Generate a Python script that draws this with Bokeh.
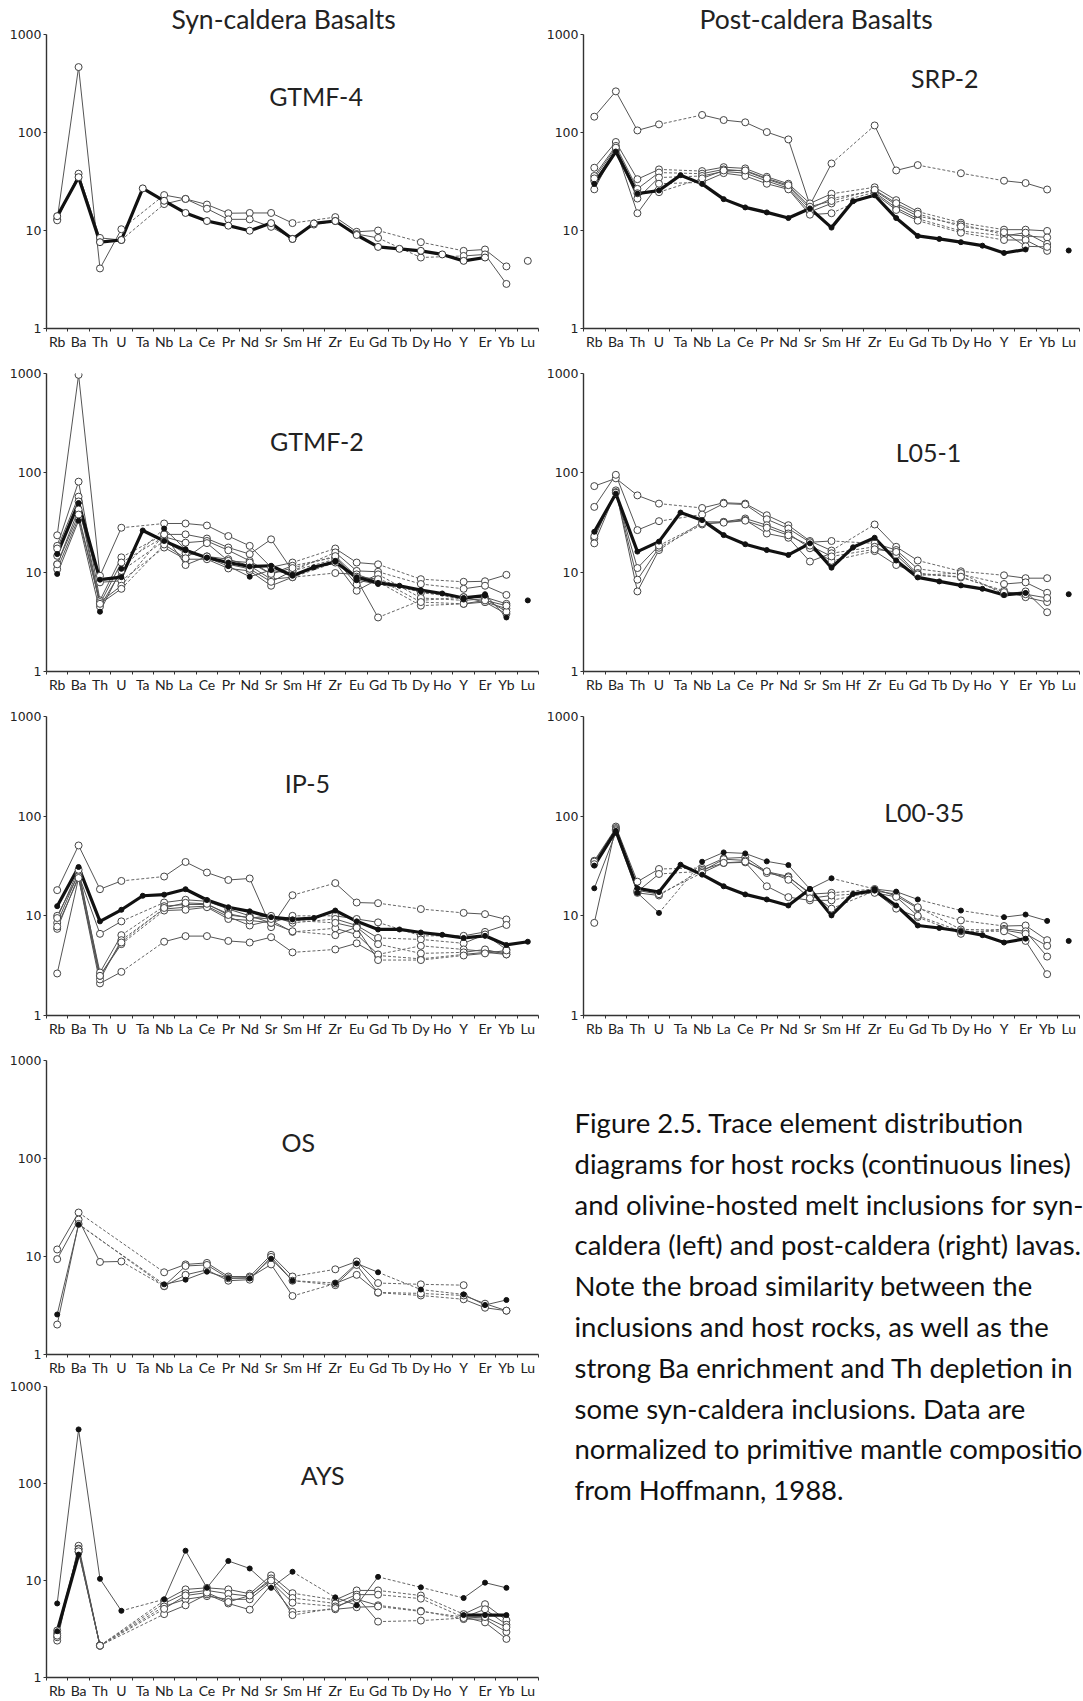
from bokeh.plotting import figure
from bokeh.models import Range1d, FixedTicker, BasicTickFormatter
from bokeh.layouts import row, column
from bokeh.core.properties import value
from bokeh.embed import file_html
from bokeh.resources import INLINE

N = None

# Element order along the x axis (primitive-mantle normalised spider diagram)
CATS = ["Rb", "Ba", "Th", "U", "Ta", "Nb", "La", "Ce", "Pr", "Nd", "Sr", "Sm",
        "Hf", "Zr", "Eu", "Gd", "Tb", "Dy", "Ho", "Y", "Er", "Yb", "Lu"]
Y_TICKS = [1, 10, 100, 1000]

# ---------------- Syn-caldera basalts ----------------
GTMF4_HOST = [14.0, 35, 7.6, 8.0, 26.9, 20.1, 15.1, 12.5, 11.2, 9.95, 11.9, 8.2, 11.8, 12.5, 9.0, 6.8, 6.5, 6.2, 5.7, 4.9, 5.3, N, N]
GTMF4_DOT = []
GTMF4_MI = [
    [13.0, 465, 4.1, 10.3, N, 23, 21, 18.4, 15.0, 15.1, 15.1, 11.9, N, 13.7, 9.7, 10.0, N, 7.6, N, 6.2, 6.4, 4.3, N],
    [12.7, 38, 8.4, 8.0, N, 18.6, 21, 16.7, 13.0, 13.0, 10.9, 8.2, 11.5, 12.5, 9.2, 8.4, N, 5.3, N, 5.5, 5.7, 2.85, N],
    [N, N, N, N, N, N, N, N, N, N, N, N, N, N, N, N, N, N, N, N, N, N, 4.9],
]

GTMF2_HOST = [15.2, 49.7, 8.4, 8.9, 26.3, 20.6, 16.6, 14.0, 12.5, 11.4, 11.6, 9.2, 11.2, 12.7, 8.9, 7.8, 7.3, 6.6, 6.1, 5.5, 5.8, N, 5.2]
GTMF2_DOT = [
    [9.6, 33, 4.0, 10.8, N, 27.5, 17, 14, 11.5, 9.0, 10.5, 9.5, N, 13, 8.3, 7.6, N, 6.4, N, 5.3, 6.0, 3.5, N],
]
GTMF2_MI = [
    [23.5, 969, 9.2, 28, N, 30.9, 30.9, 29.5, 23.1, 18.4, 11.2, 12.5, N, 17.3, 12.5, 12.0, N, 8.5, N, 8.0, 8.1, 9.4, N],
    [18.4, 81.5, 5.2, 14.1, N, 24, 24, 21.8, 17.7, 15.2, 21.4, 10.3, N, 15.8, 10.3, 10.1, N, 7.6, N, 6.8, 7.3, 5.9, N],
    [17.3, 57.6, 4.8, 12.5, N, 22.7, 19.8, 20.6, 16.6, 13.0, 9.6, 11.6, N, 14.1, 8.5, 3.5, N, 5.2, N, 5.6, 5.6, 4.8, N],
    [14.6, 51.5, 4.5, 10.3, N, 20.6, 15.5, 14.4, 13.5, 11.6, 8.5, 8.9, N, 12.5, 6.5, 8.5, N, 6.2, N, 5.6, 5.0, 4.3, N],
    [12.0, 42.7, 7.9, 8.2, N, 17.7, 13.5, 13.5, 10.9, 10.3, 7.3, 8.9, N, 9.8, 9.5, 8.0, N, 4.6, N, 4.8, 5.0, 3.8, N],
    [10.7, 35.2, 5.0, 7.3, N, 24, 11.8, 14.4, 12.0, 10.8, 8.0, 10.3, N, 13.5, 7.5, 9.5, N, 5.5, N, 5.2, 5.4, 4.0, N],
    [12.0, 38, 4.8, 6.8, N, 19, 13.8, 19.6, 13.0, 12.5, 9.6, 11.0, N, 14.5, 9.0, 8.5, N, 5.0, N, 4.8, 5.2, 4.6, N],
]

IP5_HOST = [12.5, 30.9, 8.8, 11.5, 15.9, 16.3, 18.5, 14.4, 12.2, 11.1, 9.7, 9.2, 9.5, 11.3, 8.8, 7.3, 7.3, 6.8, 6.45, 6.0, 6.3, 5.1, 5.5]
IP5_DOT = []
IP5_MI = [
    [18.1, 50.8, 18.5, 22.4, N, 24.8, 34.7, 27.2, 22.9, 23.7, 7.7, 16.1, N, 21.3, 13.6, 13.4, N, 11.7, N, 10.7, 10.4, 9.2, N],
    [2.64, 24, 2.1, 2.74, N, 5.5, 6.26, 6.26, 5.6, 5.4, 6.1, 4.3, N, 4.6, 5.3, 4.0, N, 3.7, N, 4.1, 4.3, 4.1, N],
    [10, 26, 6.6, 8.8, N, 13.6, 14.5, 14, 11.7, 10, 8.5, 10, N, 10, 9.3, 8.6, N, 6.3, N, 6.3, 6.9, 8.1, N],
    [8.5, 27, 2.7, 6.4, N, 12.5, 13, 13, 10.5, 9.5, 10, 8.5, N, 9.3, 8.0, 6.0, N, 5.8, N, 5.3, 6.5, 4.6, N],
    [7.4, 25, 2.3, 5.7, N, 11.7, 12.2, 12.5, 9.8, 8.0, 9.0, 6.9, N, 7.5, 6.5, 4.1, N, 5.0, N, 4.6, 4.4, 4.3, N],
    [7.8, 24, 2.5, 5.2, N, 11.3, 11.5, 12.2, 9.3, 9.0, 8.5, 7.0, N, 6.4, 7.7, 5.2, N, 4.2, N, 4.3, 4.6, 4.1, N],
    [9.5, 29, 2.5, 5.4, N, 12, 13.5, 13.2, 10.2, 9.6, 9.3, 9.0, N, 8.5, 7.6, 3.6, N, 3.6, N, 4.0, 4.2, 4.5, N],
]

OS_HOST = [N] * 23
OS_DOT = [
    [2.56, 21.2, N, N, N, 5.2, 5.8, 7.0, 6.0, 6.0, 9.5, 5.66, N, 5.36, 8.5, 6.9, N, 4.6, N, 4.1, 3.2, 3.6, N],
]
OS_MI = [
    [11.8, 28.1, N, N, N, 6.9, 8.3, 8.6, 6.25, 6.25, 10.4, 6.25, N, 7.4, 8.9, 5.36, N, 5.2, N, 5.1, N, N, N],
    [9.4, 23.8, 8.8, 8.9, N, 4.97, 6.5, 7.3, 5.66, 5.8, 9.9, 5.66, N, 5.1, 8.2, 4.27, N, 4.0, N, 3.66, 3.0, 2.8, N],
    [2.02, 21.5, N, N, N, 5.0, 8.0, 8.2, 6.0, 6.1, 8.3, 3.95, N, 5.3, 6.5, 4.3, N, 4.2, N, 4.0, 3.3, 2.8, N],
]

AYS_HOST = [3.0, 18.5, N, N, N, N, N, N, N, N, N, N, N, N, N, N, N, N, N, 4.4, 4.4, 4.4, N]
AYS_DOT = [
    [5.8, 361, 10.4, 4.87, N, 6.4, 20.3, 8.4, 15.9, 13.3, 8.4, 12.3, N, 6.7, 5.55, 10.9, N, 8.5, N, 6.6, 9.5, 8.4, N],
]
AYS_MI = [
    [2.4, 22.8, 2.13, N, N, 6.2, 8.1, 8.4, 8.1, 7.3, 11.3, 7.4, N, 6.3, 7.9, 7.9, N, 7.0, N, 4.5, 5.7, 3.9, N],
    [2.6, 21.3, 2.13, N, N, 5.8, 7.4, 7.9, 7.3, 6.9, 10.5, 6.6, N, 5.8, 7.15, 7.15, N, 6.5, N, 4.17, 5.05, 3.5, N],
    [2.85, 19.7, 2.13, N, N, 5.4, 6.4, 6.9, 6.4, 6.4, 9.7, 5.9, N, 5.4, 6.4, 5.55, N, 4.87, N, 4.0, 4.0, 2.95, N],
    [3.05, 21, 2.13, N, N, 4.5, 5.55, 7.2, 5.8, 5.0, 9.0, 4.75, N, 5.05, 5.3, 5.4, N, 4.8, N, 4.2, 3.7, 2.5, N],
    [2.7, 20, 2.13, N, N, 5.1, 7.0, 7.5, 6.0, 7.0, 10.0, 4.4, N, 5.2, 6.8, 3.77, N, 3.86, N, 4.1, 4.2, 3.3, N],
]

# ---------------- Post-caldera basalts ----------------
SRP2_HOST = [29.9, 64, 23.8, 25.6, 36.7, 29.9, 20.9, 17.2, 15.3, 13.4, 16.8, 10.7, 19.9, 22.9, 13.4, 8.8, 8.2, 7.6, 7.0, 5.9, 6.4, N, 6.25]
SRP2_DOT = []
SRP2_MI = [
    [145, 263, 105, 121, N, 151, 134, 127, 101, 85, 18.2, 48.3, N, 118, 41, 46.5, N, 38.4, N, 32.2, 30.5, 26.2, N],
    [43.7, 80, 33.4, 42, N, 40.4, 44.3, 43, 35.3, 30, 18.9, 23.7, N, 27.6, 20.4, 15.6, N, 12.0, N, 10.2, 10.2, 9.9, N],
    [36, 73, 26.6, 39, N, 38, 42, 40.4, 33.4, 28.2, 16.6, 21.2, N, 25.6, 18.2, 14.0, N, 11.5, N, 9.1, 8.8, 8.5, N],
    [32, 66, 21.2, 34.7, N, 36, 40, 38.5, 32, 27, 15.5, 18.9, N, 24.5, 17, 13.2, N, 9.9, N, 8.8, 9.5, 7.3, N],
    [26.3, 68, 15, 30, N, 31, 38.5, 36, 30, 26.3, 14.5, 15, N, 23.7, 16.2, 12.6, N, 9.5, N, 8.0, 8.0, 6.2, N],
    [34, 70, 24, 24.6, N, 34, 41, 41, 34, 29, 17.5, 20, N, 26, 19, 14.8, N, 11.0, N, 9.6, 6.9, 6.8, N],
]

L051_HOST = [25.5, 61.7, 16.1, 20.3, 39.8, 33.4, 23.6, 19.1, 16.7, 14.9, 19.5, 11.1, 17.8, 22.2, 13.1, 8.85, 8.07, 7.36, 6.8, 5.9, 6.17, N, 6.0]
L051_DOT = []
L051_MI = [
    [73.5, 88, 59.3, 49, N, 44.3, 50, 49, 37.4, 29.7, 20.6, 16.5, N, 30.2, 18, 13.1, N, 10.2, N, 9.3, 8.7, 8.7, N],
    [45.4, 95.5, 26.5, 32.6, N, 38, 49, 48, 34.1, 27.5, 20, 20.6, N, 19.5, 16.7, 10.8, N, 9.5, N, 7.6, 7.9, 6.2, N],
    [21.9, 66.6, 6.4, 16.7, N, 32.1, 32.1, 34.7, 29.7, 24.5, 17.4, 13, N, 16.3, 11.8, 9.8, N, 8.85, N, 6.5, 5.6, 5.0, N],
    [19.5, 64, 8.4, 17.6, N, 30.2, 32, 33.5, 24.5, 22.2, 12.8, 15.5, N, 18, 14.9, 9.3, N, 9.8, N, 6.0, 6.4, 3.95, N],
    [23, 63, 11, 18.5, N, 31, 31.5, 33, 28, 23.5, 18.5, 14.4, N, 17, 16, 9.5, N, 9.0, N, 6.3, 6.0, 5.5, N],
]

L0035_HOST = [31.9, 71.2, 18.9, 17.3, 32.6, 25.9, 19.8, 16.4, 14.6, 12.7, 18.6, 10.1, 16.6, 17.9, 12.7, 8.0, 7.55, 7.0, 6.4, 5.4, 5.9, N, 5.6]
L0035_DOT = [
    [18.9, 68, 17, 10.7, N, 34.9, 43.3, 42.3, 35.2, 32.3, 18.6, 23.8, N, 18.6, 17.5, 14.6, N, 11.3, N, 9.7, 10.3, 8.9, N],
]
L0035_MI = [
    [8.5, 78.6, 22, 29.5, N, 30.2, 37.7, 38.6, 27.7, 24.9, 16.5, 17, N, 18.6, 15.8, 11.9, N, 9.0, N, 7.9, 8.0, 5.7, N],
    [35.7, 76, 17, 16, N, 29, 33.9, 34.4, 19.8, 15.4, 14.3, 14.3, N, 17.5, 11.8, 9.7, N, 6.6, N, 7.4, 7.0, 3.9, N],
    [35, 74, 17.5, 26.3, N, 28, 37, 36, 26.9, 24.4, 17, 11.8, N, 17.8, 16.5, 12.2, N, 7.3, N, 7.2, 6.6, 5.0, N],
    [33, 72, 18, 16.5, N, 27, 34, 35, 28, 23, 15, 16, N, 17, 15.5, 10, N, 7.0, N, 7.0, 5.6, 2.6, N],
]

CAPTION = [
    "Figure 2.5. Trace element distribution",
    "diagrams for host rocks (continuous lines)",
    "and olivine-hosted melt inclusions for syn-",
    "caldera (left) and post-caldera (right) lavas.",
    "Note the broad similarity between the",
    "inclusions and host rocks, as well as the",
    "strong Ba enrichment and Th depletion in",
    "some syn-caldera inclusions. Data are",
    "normalized to primitive mantle composition",
    "from Hoffmann, 1988.",
]

FONT = "Lato"
INK = "#222222"


def split_runs(vals):
    """Solid runs over adjacent elements, dashed links across missing ones."""
    idx = [i for i, v in enumerate(vals) if v is not None]
    solid, dashed = [], []
    if not idx:
        return solid, dashed
    run = [idx[0]]
    for a, b in zip(idx, idx[1:]):
        if b == a + 1:
            run.append(b)
        else:
            if len(run) > 1:
                solid.append(run)
            run = [b]
            dashed.append([a, b])
    if len(run) > 1:
        solid.append(run)
    return solid, dashed


def points(series_list):
    xs, ys = [], []
    for vals in series_list:
        for i, v in enumerate(vals):
            if v is not None:
                xs.append(i)
                ys.append(v)
    return xs, ys


def spider(name, host, dotted, incl, width, height, left, right, top, bottom,
           label_x, label_y, heading=None, heading_offset=0, host_open=False):
    p = figure(width=width, height=height,
               x_range=Range1d(-0.5, len(CATS) - 0.5), y_range=Range1d(1, 1000),
               y_axis_type="log", output_backend="svg", toolbar_location=None,
               min_border_left=left, min_border_right=right,
               min_border_top=top, min_border_bottom=bottom)
    p.xgrid.visible = False
    p.ygrid.visible = False
    p.outline_line_color = None
    p.background_fill_color = "white"
    p.border_fill_color = "white"

    # category axis: labels centred on elements, small ticks between them
    xa = p.xaxis[0]
    xa.ticker = FixedTicker(ticks=list(range(len(CATS))),
                            minor_ticks=[i - 0.5 for i in range(len(CATS) + 1)])
    xa.major_label_overrides = {i: c for i, c in enumerate(CATS)}
    xa.major_tick_out = 0
    xa.major_tick_in = 0
    xa.minor_tick_out = 3
    xa.minor_tick_in = 0
    xa.minor_tick_line_color = "#333333"
    xa.axis_line_color = "#333333"
    xa.axis_line_width = 1.4
    xa.major_label_standoff = 1
    xa.major_label_text_font = FONT
    xa.major_label_text_font_size = "14px"
    xa.major_label_text_color = INK

    ya = p.yaxis[0]
    ya.ticker = FixedTicker(ticks=Y_TICKS, minor_ticks=[])
    ya.formatter = BasicTickFormatter()
    ya.major_tick_out = 3
    ya.major_tick_in = 0
    ya.minor_tick_out = 0
    ya.minor_tick_in = 0
    ya.axis_line_color = "#333333"
    ya.axis_line_width = 1.4
    ya.major_tick_line_color = "#333333"
    ya.major_label_standoff = 2
    ya.major_label_text_font = "DejaVu Sans"
    ya.major_label_text_font_size = "12.5px"
    ya.major_label_text_color = INK

    if heading:
        p.title.text = heading
        p.title.align = "left"
        p.title.offset = heading_offset
        p.title.standoff = 0
        p.title.text_font = FONT
        p.title.text_font_size = "26.5px"
        p.title.text_font_style = "normal"
        p.title.text_color = INK

    # inclusion profiles: dashed links first, then solid runs
    dxs, dys, sxs, sys_ = [], [], [], []
    for vals in incl + dotted:
        solid, dashed = split_runs(vals)
        for seg in dashed:
            dxs.append(seg)
            dys.append([vals[i] for i in seg])
        for seg in solid:
            sxs.append(seg)
            sys_.append([vals[i] for i in seg])
    if dxs:
        p.multi_line(dxs, dys, line_color="#666666", line_width=1.0, line_dash="3 2")
    if sxs:
        p.multi_line(sxs, sys_, line_color="#555555", line_width=1.0)

    # host rock: thick continuous line
    hsolid, _ = split_runs(host)
    if hsolid:
        p.multi_line([s for s in hsolid], [[host[i] for i in s] for s in hsolid],
                     line_color="#111111", line_width=3.2, line_join="round")

    ix, iy = points(incl)
    if ix:
        p.scatter(ix, iy, marker="circle", size=7, fill_color="white",
                  line_color="#444444", line_width=1.0)
    fx, fy = points(dotted)
    if fx:
        p.scatter(fx, fy, marker="circle", size=5, fill_color="#111111",
                  line_color="#111111")
    hx, hy = points([host])
    if hx:
        if host_open:
            p.scatter(hx, hy, marker="circle", size=7, fill_color="white",
                      line_color="#333333", line_width=1.0)
        else:
            p.scatter(hx, hy, marker="circle", size=5, fill_color="#111111",
                      line_color="#111111")

    p.text(x=[label_x], y=[label_y], text=[name], text_font=value(FONT),
           text_font_size=value("25px"), text_align="center",
           text_baseline="middle", text_color=INK)
    return p


LW, RW = 541, 542          # column widths
LL, LR = 46, 3             # left column borders (frame 492 px wide)
RL, RR = 42, 4             # right column borders (frame 496 px wide)

p1 = spider("GTMF-4", GTMF4_HOST, GTMF4_DOT, GTMF4_MI, LW, 352, LL, LR, 29, 22,
            12.1, 236, heading="Syn-caldera Basalts", heading_offset=125, host_open=True)
p2 = spider("SRP-2", SRP2_HOST, SRP2_DOT, SRP2_MI, RW, 352, RL, RR, 29, 22,
            16.25, 360, heading="Post-caldera Basalts", heading_offset=116)
p3 = spider("GTMF-2", GTMF2_HOST, GTMF2_DOT, GTMF2_MI, LW, 343, LL, LR, 21, 21,
            12.14, 209)
p4 = spider("L05-1", L051_HOST, L051_DOT, L051_MI, RW, 343, RL, RR, 21, 21,
            15.5, 161)
p5 = spider("IP-5", IP5_HOST, IP5_DOT, IP5_MI, LW, 344, LL, LR, 21, 22,
            11.7, 216)
p6 = spider("L00-35", L0035_HOST, L0035_DOT, L0035_MI, RW, 344, RL, RR, 21, 22,
            15.3, 110)
p7 = spider("OS", OS_HOST, OS_DOT, OS_MI, LW, 339, LL, LR, 21, 17,
            11.27, 146)
p8 = spider("AYS", AYS_HOST, AYS_DOT, AYS_MI, LW, 323, LL, LR, 8, 17,
            12.41, 123)

# caption panel beside the two lowest diagrams
CAP_H = 662
cap = figure(width=RW, height=CAP_H, x_range=Range1d(0, RW), y_range=Range1d(CAP_H, 0),
             output_backend="svg", toolbar_location=None,
             x_axis_location=None, y_axis_location=None, min_border=0)
cap.xgrid.visible = False
cap.ygrid.visible = False
cap.outline_line_color = None
cap.text(x=[33] * len(CAPTION), y=[83 + 40.8 * k for k in range(len(CAPTION))],
         text=CAPTION, text_font=value(FONT), text_font_size=value("27.5px"),
         text_align="left", text_baseline="alphabetic", text_color="#111111")

layout = column(row(p1, p2), row(p3, p4), row(p5, p6),
                row(column(p7, p8), cap))

open("out.html", "w").write(file_html(layout, INLINE))
